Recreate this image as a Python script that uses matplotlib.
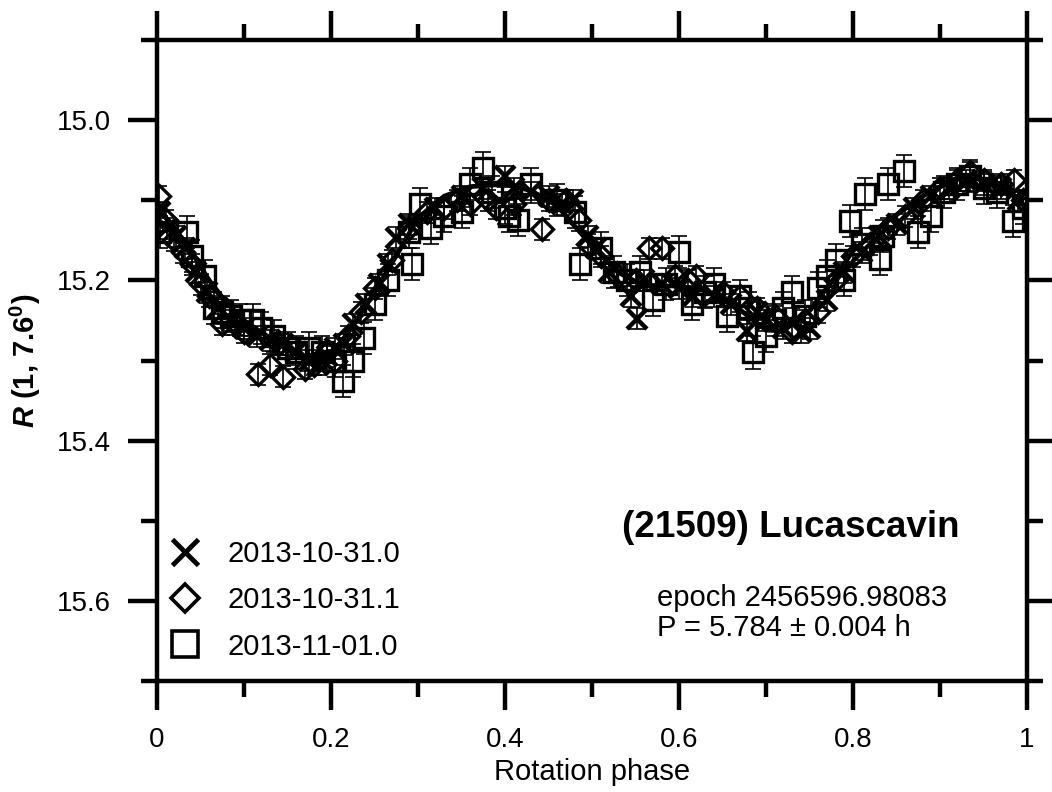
import matplotlib
matplotlib.use('Agg')
import matplotlib.pyplot as plt
from matplotlib.lines import Line2D
from matplotlib.ticker import MultipleLocator

plt.rcParams['font.family'] = ['Liberation Sans', 'DejaVu Sans']
plt.rcParams['mathtext.fontset'] = 'custom'
plt.rcParams['mathtext.rm'] = 'Liberation Sans'
plt.rcParams['mathtext.it'] = 'Liberation Sans:italic'
plt.rcParams['mathtext.bf'] = 'Liberation Sans:bold'
plt.rcParams['mathtext.bfit'] = 'Liberation Sans:bold:italic'

# 2013-10-31.0 (crosses)
ph_a = [0.003, 0.012, 0.022, 0.032, 0.045, 0.058, 0.07, 0.085, 0.1, 0.115, 0.13, 0.145,
        0.16, 0.175, 0.185, 0.195, 0.205, 0.215, 0.225, 0.24, 0.255, 0.265, 0.275, 0.29,
        0.32, 0.35, 0.375, 0.40, 0.41, 0.43, 0.45, 0.465, 0.478, 0.495, 0.505, 0.52, 0.545,
        0.552, 0.56, 0.58, 0.6, 0.616, 0.64, 0.66, 0.678, 0.69, 0.7, 0.72, 0.74, 0.75, 0.77,
        0.79, 0.81, 0.83, 0.85, 0.87, 0.89, 0.91, 0.93, 0.95, 0.97, 0.99]
mag_a = [15.115, 15.135, 15.145, 15.16, 15.19, 15.215, 15.235, 15.25, 15.26, 15.27, 15.275, 15.28,
         15.29, 15.30, 15.305, 15.295, 15.285, 15.28, 15.255, 15.23, 15.205, 15.18, 15.147, 15.13,
         15.11, 15.095, 15.085, 15.07, 15.085, 15.09, 15.095, 15.105, 15.10, 15.145, 15.16, 15.19, 15.22,
         15.248, 15.2, 15.205, 15.21, 15.22, 15.22, 15.23, 15.263, 15.24, 15.25, 15.26, 15.265, 15.26, 15.225,
         15.19, 15.165, 15.145, 15.13, 15.11, 15.095, 15.085, 15.075, 15.08, 15.085, 15.10]
err_a = 0.013

# 2013-10-31.1 (diamonds)
ph_b = [0.002, 0.01, 0.02, 0.03, 0.04, 0.05, 0.06, 0.075, 0.09, 0.1, 0.116, 0.13, 0.14, 0.145,
        0.17, 0.18, 0.195, 0.205, 0.22, 0.235, 0.25, 0.27, 0.29, 0.31, 0.33, 0.345, 0.36, 0.38,
        0.39, 0.41, 0.442, 0.45, 0.47, 0.485, 0.495, 0.51, 0.53, 0.55, 0.565, 0.58, 0.595, 0.61,
        0.62, 0.65, 0.67, 0.69, 0.71, 0.73, 0.745, 0.76, 0.78, 0.8, 0.82, 0.84, 0.86, 0.88, 0.9,
        0.92, 0.935, 0.95, 0.97, 0.985, 0.995]
mag_b = [15.095, 15.125, 15.15, 15.165, 15.18, 15.205, 15.22, 15.255, 15.255, 15.265, 15.317, 15.305, 15.28, 15.32,
         15.31, 15.305, 15.29, 15.30, 15.27, 15.24, 15.21, 15.175, 15.135, 15.115, 15.11, 15.10, 15.105, 15.10,
         15.11, 15.105, 15.136, 15.10, 15.10, 15.125, 15.155, 15.17, 15.195, 15.20, 15.16, 15.16, 15.195, 15.20,
         15.195, 15.215, 15.22, 15.235, 15.245, 15.265, 15.25, 15.24, 15.20, 15.17, 15.155, 15.135, 15.12, 15.10, 15.085,
         15.075, 15.065, 15.075, 15.08, 15.075, 15.10]
err_b = 0.013

# 2013-11-01.0 (squares)
ph_c = [0.003, 0.035, 0.04, 0.055, 0.065, 0.075, 0.085, 0.095, 0.11, 0.12, 0.135, 0.15, 0.16,
        0.175, 0.19, 0.205, 0.214, 0.225, 0.238, 0.25, 0.265, 0.293, 0.29, 0.302, 0.315, 0.33,
        0.35, 0.36, 0.375, 0.385, 0.40, 0.415, 0.43, 0.405, 0.46, 0.48, 0.486, 0.51, 0.525, 0.54,
        0.555, 0.57, 0.585, 0.60, 0.615, 0.63, 0.64, 0.655, 0.67, 0.68, 0.685, 0.70, 0.71, 0.72,
        0.73, 0.745, 0.76, 0.77, 0.78, 0.79, 0.797, 0.81, 0.814, 0.835, 0.831, 0.84, 0.859, 0.875,
        0.89, 0.905, 0.92, 0.935, 0.95, 0.965, 0.984, 0.995]
mag_c = [15.14, 15.14, 15.17, 15.195, 15.235, 15.24, 15.245, 15.25, 15.25, 15.26, 15.27, 15.285, 15.29,
         15.285, 15.29, 15.30, 15.325, 15.30, 15.272, 15.23, 15.20, 15.18, 15.14, 15.105, 15.135, 15.12,
         15.115, 15.08, 15.06, 15.09, 15.11, 15.125, 15.08, 15.12, 15.10, 15.115, 15.18, 15.16, 15.19, 15.20,
         15.19, 15.225, 15.205, 15.165, 15.23, 15.215, 15.205, 15.245, 15.22, 15.235, 15.29, 15.27, 15.25, 15.235,
         15.215, 15.245, 15.21, 15.195, 15.175, 15.20, 15.126, 15.155, 15.092, 15.145, 15.173, 15.08, 15.064, 15.14,
         15.12, 15.09, 15.08, 15.07, 15.085, 15.09, 15.126, 15.11]
err_c = 0.02

# Fourier fit
fit_ph = [0.0, 0.02, 0.04, 0.06, 0.08, 0.10, 0.12, 0.15, 0.18, 0.20, 0.22, 0.25, 0.28, 0.30,
          0.33, 0.36, 0.40, 0.43, 0.46, 0.50, 0.53, 0.56, 0.60, 0.63, 0.66, 0.70, 0.72, 0.75,
          0.78, 0.80, 0.84, 0.88, 0.92, 0.95, 0.98, 1.0]
fit_mag = [15.108, 15.135, 15.165, 15.200, 15.228, 15.250, 15.265, 15.285, 15.300, 15.292, 15.265,
           15.215, 15.160, 15.122, 15.095, 15.083, 15.080, 15.088, 15.107, 15.157, 15.190, 15.207,
           15.207, 15.213, 15.228, 15.262, 15.263, 15.238, 15.195, 15.163, 15.126, 15.095, 15.072,
           15.074, 15.088, 15.110]

fig = plt.figure(figsize=(10.52, 7.92), dpi=100)
ax = fig.add_axes([157 / 1052, 1 - 681 / 792, 870 / 1052, 641 / 792])

eb = dict(fmt='none', ecolor='black', elinewidth=1.2, capsize=5.5, capthick=1.2, zorder=2)
ax.errorbar(ph_a, mag_a, yerr=err_a, **eb)
ax.errorbar(ph_b, mag_b, yerr=err_b, **eb)
ax.errorbar(ph_c, mag_c, yerr=err_c, **eb)

ax.plot(ph_c, mag_c, ls='none', marker='s', ms=15, mfc='none', mec='black', mew=2.4, zorder=3)
ax.plot(ph_b, mag_b, ls='none', marker='D', ms=11.5, mfc='none', mec='black', mew=2.4, zorder=3)
ax.plot(ph_a, mag_a, ls='none', marker='x', ms=14, mec='black', mew=3.2, zorder=3)
ax.plot(fit_ph, fit_mag, color='black', lw=3.4, zorder=4, solid_capstyle='round')

ax.set_xlim(0, 1)
ax.set_ylim(15.7, 14.9)
ax.xaxis.set_minor_locator(MultipleLocator(0.1))
ax.yaxis.set_minor_locator(MultipleLocator(0.1))
ax.set_xticks([0, 0.2, 0.4, 0.6, 0.8, 1.0])
ax.set_xticklabels(['0', '0.2', '0.4', '0.6', '0.8', '1'])
ax.set_yticks([15.0, 15.2, 15.4, 15.6])
ax.set_yticklabels(['15.0', '15.2', '15.4', '15.6'])

for s in ax.spines.values():
    s.set_linewidth(3.2)
ax.tick_params(which='both', direction='out', top=True, right=True, width=3.2,
               labelsize=20, labeltop=False, labelright=False)
ax.tick_params(which='major', length=21, pad=12)
ax.tick_params(which='minor', length=11.5)

ax.set_xlabel('Rotation phase', fontsize=21, labelpad=4)
ax.set_ylabel(r'$\mathbfit{R}$ (1, 7.6$^{\mathbf{0}}$)', fontsize=21, fontweight='bold', labelpad=10)

handles = [Line2D([], [], ls='none', marker='x', ms=19, mec='black', mew=3.5),
           Line2D([], [], ls='none', marker='D', ms=14, mfc='none', mec='black', mew=2.6),
           Line2D([], [], ls='none', marker='s', ms=19, mfc='none', mec='black', mew=2.6)]
ax.legend(handles, ['2013-10-31.0', '2013-10-31.1', '2013-11-01.0'], loc='lower left',
          bbox_to_anchor=(-0.008, 0.0), frameon=False, fontsize=21, handlelength=1.0,
          handletextpad=0.95, labelspacing=0.62, borderaxespad=0.3)

ax.text(0.728, 0.239, '(21509) Lucascavin', transform=ax.transAxes, fontsize=26.5,
        fontweight='bold', ha='center', va='center')
ax.text(0.575, 0.129, 'epoch 2456596.98083', transform=ax.transAxes, fontsize=21,
        ha='left', va='center')
ax.text(0.575, 0.083, 'P = 5.784 ± 0.004 h', transform=ax.transAxes, fontsize=21,
        ha='left', va='center')

fig.savefig('out.png', dpi=100)
